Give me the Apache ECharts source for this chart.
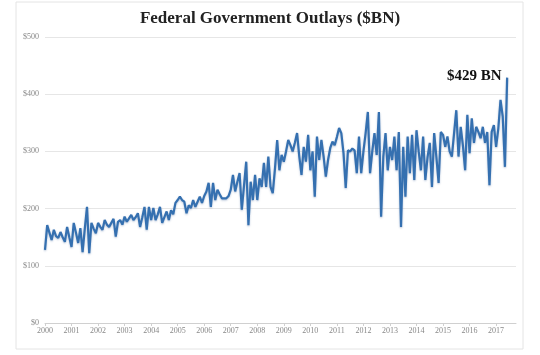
<!DOCTYPE html>
<html>
<head>
<meta charset="utf-8">
<script src="https://cdn.jsdelivr.net/npm/echarts@6/dist/echarts.min.js"></script>
<style>html,body{margin:0;padding:0;background:#fff;}#c{width:540px;height:355px;}</style>
</head>
<body>
<div id="c"></div>
<script>
// Monthly federal outlays ($BN), Jan 2000 - Jun 2017
const startYear = 2000;
const outlays2000 = [128,171,158,145,163,152,149,159,150,142,168,150];
const outlays2001 = [133,175,158,140,166,124,165,203,122,175,165,157];
const outlays2002 = [175,168,163,180,172,168,175,182,151,177,180,172];
const outlays2003 = [186,177,183,189,180,185,192,168,185,203,163,203];
const outlays2004 = [180,201,180,190,203,175,185,195,180,197,190,210];
const outlays2005 = [215,221,215,212,192,206,201,215,203,212,221,210];
const outlays2006 = [222,230,245,203,245,215,233,225,218,218,218,222];
const outlays2007 = [233,259,230,247,262,198,240,282,171,247,215,259];
const outlays2008 = [215,253,238,280,238,291,238,227,270,320,267,294];
const outlays2009 = [282,300,320,311,300,315,332,291,259,308,282,329];
const outlays2010 = [267,300,221,326,285,320,291,256,285,306,317,311];
const outlays2011 = [325,341,332,297,236,302,300,305,302,262,326,262];
const outlays2012 = [300,332,369,262,300,332,294,369,186,291,332,267];
const outlays2013 = [308,285,326,267,334,168,308,221,326,262,329,250];
const outlays2014 = [337,300,267,326,250,290,315,238,332,290,245,334];
const outlays2015 = [329,308,326,300,291,332,372,291,343,310,267,364];
const outlays2016 = [297,358,315,343,334,323,343,315,334,241,334,346];
const outlays2017 = [308,340,390,361,273,429];
const yTicks = [0,100,200,300,400,500];
const lastLabel = '$429 BN';
const axisMonths = 214; // axis runs a few months past the last data point

const values = [].concat(outlays2000,outlays2001,outlays2002,outlays2003,outlays2004,outlays2005,
  outlays2006,outlays2007,outlays2008,outlays2009,outlays2010,outlays2011,outlays2012,outlays2013,
  outlays2014,outlays2015,outlays2016,outlays2017);
const months = [];
for (let i = 0; i < axisMonths; i++) months.push((startYear + Math.floor(i/12)) + '-' + String(i%12+1).padStart(2,'0'));
const lastIdx = values.length - 1;

const chart = echarts.init(document.getElementById('c'), null, {renderer:'canvas'});
chart.setOption({
  animation:false,
  backgroundColor:'#fff',
  title:{text:'Federal Government Outlays ($BN)', left:'center', top:5,
    textStyle:{fontFamily:'Liberation Serif', fontWeight:'bold', fontSize:17, color:'#222'}},
  graphic:[{type:'rect', shape:{x:16,y:2,width:507,height:347}, style:{fill:'none', stroke:'#e4e4e4', lineWidth:1}, silent:true}],
  grid:{left:45, right:24, top:37, bottom:32},
  xAxis:{type:'category', data:months, boundaryGap:false,
    axisLine:{lineStyle:{color:'#d0d0d0'}},
    axisTick:{show:true, interval:(i)=>i%12===0, length:3, lineStyle:{color:'#d0d0d0'}},
    axisLabel:{interval:(i)=>i%12===0, formatter:(v)=>v.slice(0,4), fontSize:8,
      fontFamily:'Liberation Serif', color:'#888', margin:4}},
  yAxis:{type:'value', min:yTicks[0], max:yTicks[yTicks.length-1], interval:100,
    axisLine:{show:false}, axisTick:{show:false},
    splitLine:{lineStyle:{color:'#e6e6e6'}},
    axisLabel:{formatter:(v)=>'$'+v, fontSize:8, fontFamily:'Liberation Serif', color:'#888', margin:6}},
  series:[{type:'line', data:values, symbol:'none', smooth:false,
    lineStyle:{color:'#3570b0', width:2.2, shadowColor:'rgba(40,80,140,0.35)', shadowBlur:2, shadowOffsetY:1},
    itemStyle:{color:'#3570b0'},
    markPoint:{symbol:'circle', symbolSize:1, itemStyle:{color:'rgba(0,0,0,0)'},
      data:[{coord:[months[lastIdx], values[lastIdx]], value:values[lastIdx]}],
      label:{show:true, position:'left', distance:5, offset:[0,-1], formatter:lastLabel,
        fontFamily:'Liberation Serif', fontWeight:'bold', fontSize:15, color:'#111'}}}]
});
</script>
</body>
</html>
